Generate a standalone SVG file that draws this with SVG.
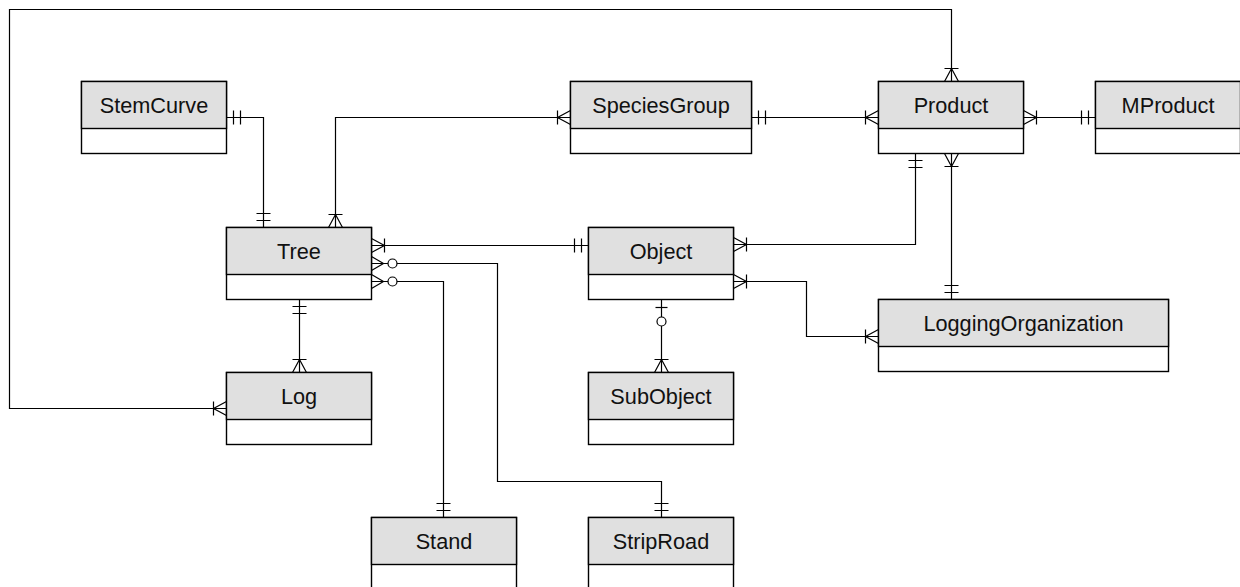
<svg xmlns="http://www.w3.org/2000/svg" width="1240" height="587" viewBox="0 0 1240 587">
<style>
.hd{fill:#e0e0e0;stroke:#000;stroke-width:1.4}
.bd{fill:#fff;stroke:#000;stroke-width:1.4}
.lbl{font-family:"Liberation Sans",Arial,sans-serif;font-size:21.7px;fill:#111;text-anchor:middle}
.c{fill:none;stroke:#000;stroke-width:1.2}
.m{fill:none;stroke:#000;stroke-width:1.2}
.mc{fill:#fff;stroke:#000;stroke-width:1.2}
</style>
<defs>
<marker id="one" markerUnits="userSpaceOnUse" orient="auto-start-reverse" refX="0" refY="0" viewBox="-30 -12 32 24" markerWidth="32" markerHeight="24" overflow="visible">
<path class="m" d="M-7,-7V7M-14,-7V7"/>
</marker>
<marker id="many" markerUnits="userSpaceOnUse" orient="auto-start-reverse" refX="0" refY="0" viewBox="-30 -12 32 24" markerWidth="32" markerHeight="24" overflow="visible">
<path class="m" d="M0,-7L-13,0L0,7M-13,-7V7"/>
</marker>
<marker id="zmany" markerUnits="userSpaceOnUse" orient="auto-start-reverse" refX="0" refY="0" viewBox="-30 -12 32 24" markerWidth="32" markerHeight="24" overflow="visible">
<path class="m" d="M0,-7L-12,0L0,7"/>
<circle class="mc" cx="-21" cy="0" r="4.5"/>
</marker>
<marker id="zone" markerUnits="userSpaceOnUse" orient="auto-start-reverse" refX="0" refY="0" viewBox="-30 -12 32 24" markerWidth="32" markerHeight="24" overflow="visible">
<path class="m" d="M-8,-6V6"/>
<circle class="mc" cx="-22" cy="0" r="4.5"/>
</marker>
</defs>
<rect width="1240" height="587" fill="#fff"/>
<g id="connectors">
<path class="c" d="M226.5,117.5H263.5V227.5" marker-start="url(#one)" marker-end="url(#one)"/>
<path class="c" d="M335.5,227.5V117.5H570.5" marker-start="url(#many)" marker-end="url(#many)"/>
<path class="c" d="M751.5,117.5H878.5" marker-start="url(#one)" marker-end="url(#many)"/>
<path class="c" d="M1023.5,117.5H1095.5" marker-start="url(#many)" marker-end="url(#one)"/>
<path class="c" d="M226.5,408.5H9.5V9.5H951.5V81.5" marker-start="url(#many)" marker-end="url(#many)"/>
<path class="c" d="M371.5,245.5H588.5" marker-start="url(#many)" marker-end="url(#one)"/>
<path class="c" d="M371.5,263.5H497.5V481.5H661.5V517.5" marker-start="url(#zmany)" marker-end="url(#one)"/>
<path class="c" d="M371.5,281.5H443.5V517.5" marker-start="url(#zmany)" marker-end="url(#one)"/>
<path class="c" d="M299.5,299.5V372.5" marker-start="url(#one)" marker-end="url(#many)"/>
<path class="c" d="M915.5,153.5V244.5H733.5" marker-start="url(#one)" marker-end="url(#many)"/>
<path class="c" d="M951.5,153.5V299.5" marker-start="url(#many)" marker-end="url(#one)"/>
<path class="c" d="M733.5,281.5H806.5V336.5H878.5" marker-start="url(#many)" marker-end="url(#many)"/>
<path class="c" d="M661.5,299.5V372.5" marker-start="url(#zone)" marker-end="url(#many)"/>
</g>
<g id="StemCurve"><rect class="bd" x="81.5" y="81.5" width="145" height="72"/><rect class="hd" x="81.5" y="81.5" width="145" height="47"/><text class="lbl" x="154" y="112.5">StemCurve</text></g>
<g id="SpeciesGroup"><rect class="bd" x="570.5" y="81.5" width="181" height="72"/><rect class="hd" x="570.5" y="81.5" width="181" height="47"/><text class="lbl" x="661" y="112.5">SpeciesGroup</text></g>
<g id="Product"><rect class="bd" x="878.5" y="81.5" width="145" height="72"/><rect class="hd" x="878.5" y="81.5" width="145" height="47"/><text class="lbl" x="951" y="112.5">Product</text></g>
<g id="MProduct"><rect class="bd" x="1095.5" y="81.5" width="145" height="72"/><rect class="hd" x="1095.5" y="81.5" width="145" height="47"/><text class="lbl" x="1168" y="112.5">MProduct</text></g>
<g id="Tree"><rect class="bd" x="226.5" y="227.5" width="145" height="72"/><rect class="hd" x="226.5" y="227.5" width="145" height="47"/><text class="lbl" x="299" y="258.5">Tree</text></g>
<g id="Object"><rect class="bd" x="588.5" y="227.5" width="145" height="72"/><rect class="hd" x="588.5" y="227.5" width="145" height="47"/><text class="lbl" x="661" y="258.5">Object</text></g>
<g id="LoggingOrganization"><rect class="bd" x="878.5" y="299.5" width="290" height="72"/><rect class="hd" x="878.5" y="299.5" width="290" height="47"/><text class="lbl" x="1023.5" y="330.5">LoggingOrganization</text></g>
<g id="Log"><rect class="bd" x="226.5" y="372.5" width="145" height="72"/><rect class="hd" x="226.5" y="372.5" width="145" height="47"/><text class="lbl" x="299" y="403.5">Log</text></g>
<g id="SubObject"><rect class="bd" x="588.5" y="372.5" width="145" height="72"/><rect class="hd" x="588.5" y="372.5" width="145" height="47"/><text class="lbl" x="661" y="403.5">SubObject</text></g>
<g id="Stand"><rect class="bd" x="371.5" y="517.5" width="145" height="72"/><rect class="hd" x="371.5" y="517.5" width="145" height="47"/><text class="lbl" x="444" y="548.5">Stand</text></g>
<g id="StripRoad"><rect class="bd" x="588.5" y="517.5" width="145" height="72"/><rect class="hd" x="588.5" y="517.5" width="145" height="47"/><text class="lbl" x="661" y="548.5">StripRoad</text></g>
</svg>
